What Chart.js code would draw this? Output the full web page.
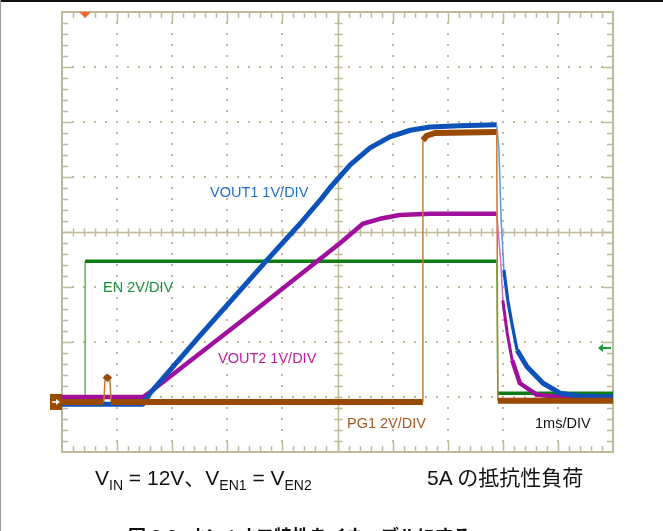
<!DOCTYPE html>
<html>
<head>
<meta charset="utf-8">
<script src="https://cdn.jsdelivr.net/npm/chart.js@4"></script>
<style>
  body { margin: 0; background: #fff; }
  #wrap { position: relative; width: 663px; height: 531px; overflow: hidden; background: #fff; font-family: "Liberation Sans", Arial, "Noto Sans CJK JP", sans-serif; }
  #scope { position: absolute; left: 0; top: 0; }
  .lbl { position: absolute; font-size: 14.5px; line-height: 16px; white-space: nowrap; }
  .cap { position: absolute; font-size: 21px; line-height: 24px; white-space: nowrap; color: #111; }
  .cap sub { font-size: 14px; vertical-align: -5px; line-height: 0; }
  .jp { font-family: "Liberation Sans", "Noto Sans CJK JP", sans-serif; }
  #title { position: absolute; left: 128px; top: 527px; font-size: 18px; line-height: 20px; font-weight: bold; white-space: nowrap; font-family: "Liberation Sans", "Noto Sans CJK JP", sans-serif; color: #111; }
  #topline { position: absolute; left: 0; top: 0; width: 663px; height: 2px; background: #111; }
  #leftline { position: absolute; left: 0; top: 0; width: 1px; height: 531px; background: #999; }
</style>
</head>
<body>
<div id="wrap">
  <canvas id="scope" width="663" height="531"></canvas>
  <div id="topline"></div>
  <div id="leftline"></div>
  <div class="lbl" style="left:210px;top:184px;color:#1f6fc2">VOUT1 1V/DIV</div>
  <div class="lbl" style="left:103px;top:279px;color:#17903a">EN 2V/DIV</div>
  <div class="lbl" style="left:218px;top:350px;color:#c21c9e">VOUT2 1V/DIV</div>
  <div class="lbl" style="left:347px;top:415px;color:#a8561e">PG1 2V/DIV</div>
  <div class="lbl" style="left:535px;top:415px;color:#111">1ms/DIV</div>
  <div class="cap" style="left:95px;top:466px">V<sub>IN</sub> = 12V、V<sub>EN1</sub> = V<sub>EN2</sub></div>
  <div class="cap jp" style="left:427px;top:466px">5A の抵抗性負荷</div>
  <div id="title">図 8-3. オン / オフ特性をイネーブルにする</div>
</div>
<script>
// time in ms (1ms/div), levels in screen divisions (0 = bottom of grid, 8 = top)
const enTime = [0, 0.42, 0.42, 7.89, 7.91, 10];
const enLevel = [0.98, 0.98, 3.47, 3.47, 1.07, 1.07];

const vout1Time = [0, 1.47, 1.60, 2.50, 3.72, 4.32, 4.72, 4.86, 5.23, 5.59, 5.95, 6.32, 6.68, 7.22, 7.89, 7.93, 7.97, 8.02, 8.09, 8.17, 8.26, 8.44, 8.73, 9.04, 9.40, 10];
const vout1Level = [0.87, 0.87, 1.07, 2.11, 3.49, 4.15, 4.62, 4.80, 5.22, 5.53, 5.73, 5.85, 5.91, 5.93, 5.95, 5.49, 4.22, 3.31, 2.76, 2.31, 1.85, 1.55, 1.25, 1.07, 1.02, 1.0];

const vout2Time = [0, 1.47, 1.60, 3.23, 5.05, 5.46, 5.77, 6.13, 6.68, 7.89, 7.93, 7.97, 8.00, 8.08, 8.17, 8.31, 8.62, 9.04, 10];
const vout2Level = [1.0, 1.0, 1.09, 2.36, 3.80, 4.15, 4.24, 4.31, 4.33, 4.33, 3.85, 3.36, 2.76, 2.16, 1.67, 1.25, 1.04, 1.0, 1.0];

const pg1Time = [0, 0.76, 0.78, 0.82, 0.87, 0.89, 6.55, 6.55, 6.62, 6.77, 7.89, 7.91, 10];
const pg1Level = [0.91, 0.91, 1.31, 1.36, 1.31, 0.91, 0.91, 5.67, 5.75, 5.80, 5.82, 0.93, 0.93];

const triggerTime = 0.42;
const triggerLevel = 1.89;
const pg1Ground = 0.91;

const gridColor = '#bfba98';

function pts(xs, ys) {
  return xs.map((x, i) => ({ x: x, y: ys[i] }));
}

// slope of a segment in pixels: steep parts of a noisy scope trace look thin
function slope(c) {
  const dx = Math.abs(c.p1.x - c.p0.x);
  const dy = Math.abs(c.p1.y - c.p0.y);
  return dx === 0 ? 99 : dy / dx;
}

function trace(label, xs, ys, color, edgeColor, width, order) {
  return {
    label: label,
    data: pts(xs, ys),
    borderColor: color,
    borderWidth: width,
    borderJoinStyle: 'round',
    pointRadius: 0,
    tension: 0,
    order: order,
    segment: {
      borderWidth: c => {
        const s = slope(c);
        if (s > 10) return 1.5;
        if (s > 4) return (width + 1.5) / 2;
        return width;
      },
      borderColor: c => slope(c) > 10 ? edgeColor : color
    }
  };
}

const gridPlugin = {
  id: 'scopeGrid',
  beforeDatasetsDraw(chart) {
    const ctx = chart.ctx;
    const xs = chart.scales.x, ys = chart.scales.y;
    const L = xs.getPixelForValue(0), R = xs.getPixelForValue(10);
    const T = ys.getPixelForValue(8), B = ys.getPixelForValue(0);
    ctx.save();
    ctx.fillStyle = gridColor;
    // dotted division lines
    for (let i = 1; i < 10; i++) {
      if (i === 5) continue;
      const px = Math.round(xs.getPixelForValue(i));
      for (let m = 1; m < 40; m++) {
        const py = Math.round(ys.getPixelForValue(m * 0.2));
        ctx.fillRect(px - 1, py - 1, 2, 2);
      }
    }
    for (let j = 1; j < 8; j++) {
      if (j === 4) continue;
      const py = Math.round(ys.getPixelForValue(j));
      for (let m = 1; m < 50; m++) {
        const px = Math.round(xs.getPixelForValue(m * 0.2));
        ctx.fillRect(px - 1, py - 1, 2, 2);
      }
    }
    ctx.strokeStyle = gridColor;
    // center cross
    const cx = Math.round(xs.getPixelForValue(5)) + 0.5;
    const cy = Math.round(ys.getPixelForValue(4)) + 0.5;
    ctx.lineWidth = 1.5;
    ctx.beginPath();
    ctx.moveTo(L, cy); ctx.lineTo(R, cy);
    ctx.moveTo(cx, T); ctx.lineTo(cx, B);
    ctx.stroke();
    ctx.beginPath();
    for (let m = 1; m < 50; m++) {
      const px = Math.round(xs.getPixelForValue(m * 0.2)) + 0.5;
      ctx.moveTo(px, cy - 4); ctx.lineTo(px, cy + 4);
      const big = m % 5 === 0 ? 10 : 6;
      ctx.moveTo(px, T); ctx.lineTo(px, T + big);
      ctx.moveTo(px, B); ctx.lineTo(px, B - big);
    }
    for (let m = 1; m < 40; m++) {
      const py = Math.round(ys.getPixelForValue(m * 0.2)) + 0.5;
      ctx.moveTo(cx - 4, py); ctx.lineTo(cx + 4, py);
      const big = m % 5 === 0 ? 10 : 6;
      ctx.moveTo(L, py); ctx.lineTo(L + big, py);
      ctx.moveTo(R, py); ctx.lineTo(R - big, py);
    }
    ctx.stroke();
    // border
    ctx.lineWidth = 2;
    ctx.strokeRect(L, T, R - L, B - T);
    ctx.restore();
  },
  afterDatasetsDraw(chart) {
    const ctx = chart.ctx;
    const xs = chart.scales.x, ys = chart.scales.y;
    const L = xs.getPixelForValue(0), R = xs.getPixelForValue(10);
    const T = ys.getPixelForValue(8);
    ctx.save();
    // trigger position marker
    const tx = xs.getPixelForValue(triggerTime);
    ctx.fillStyle = '#f26b2a';
    ctx.beginPath();
    ctx.moveTo(tx - 6, T); ctx.lineTo(tx + 6, T); ctx.lineTo(tx, T + 6);
    ctx.closePath(); ctx.fill();
    // trigger level arrow
    const ty = ys.getPixelForValue(triggerLevel);
    ctx.strokeStyle = '#1b9a3a'; ctx.fillStyle = '#1b9a3a'; ctx.lineWidth = 2;
    ctx.beginPath(); ctx.moveTo(R - 2, ty); ctx.lineTo(R - 12, ty); ctx.stroke();
    ctx.beginPath(); ctx.moveTo(R - 15, ty); ctx.lineTo(R - 10, ty - 4); ctx.lineTo(R - 10, ty + 4);
    ctx.closePath(); ctx.fill();
    // PG1 ground marker
    const gy = ys.getPixelForValue(pg1Ground);
    ctx.fillStyle = '#9a4a00';
    ctx.fillRect(L - 12, gy - 8, 12, 16);
    ctx.strokeStyle = '#fff'; ctx.fillStyle = '#fff'; ctx.lineWidth = 1.5;
    ctx.beginPath(); ctx.moveTo(L - 10, gy); ctx.lineTo(L - 4, gy); ctx.stroke();
    ctx.beginPath(); ctx.moveTo(L - 2, gy); ctx.lineTo(L - 6, gy - 3); ctx.lineTo(L - 6, gy + 3);
    ctx.closePath(); ctx.fill();
    ctx.restore();
  }
};

new Chart(document.getElementById('scope'), {
  type: 'line',
  data: {
    datasets: [
      trace('EN', enTime, enLevel, '#0b7d12', '#5cb85c', 3.5, 4),
      trace('VOUT2', vout2Time, vout2Level, '#a0109c', '#d070c8', 4.5, 3),
      trace('VOUT1', vout1Time, vout1Level, '#0d52b8', '#5a98e0', 5, 2),
      trace('PG1', pg1Time, pg1Level, '#9a4a00', '#c87a30', 6, 1)
    ]
  },
  options: {
    responsive: false,
    animation: false,
    devicePixelRatio: 1,
    layout: { padding: { left: 62, top: 12, right: 50, bottom: 79 } },
    scales: {
      x: { type: 'linear', min: 0, max: 10, display: false },
      y: { type: 'linear', min: 0, max: 8, display: false }
    },
    plugins: { legend: { display: false }, tooltip: { enabled: false } }
  },
  plugins: [gridPlugin]
});
</script>
</body>
</html>
